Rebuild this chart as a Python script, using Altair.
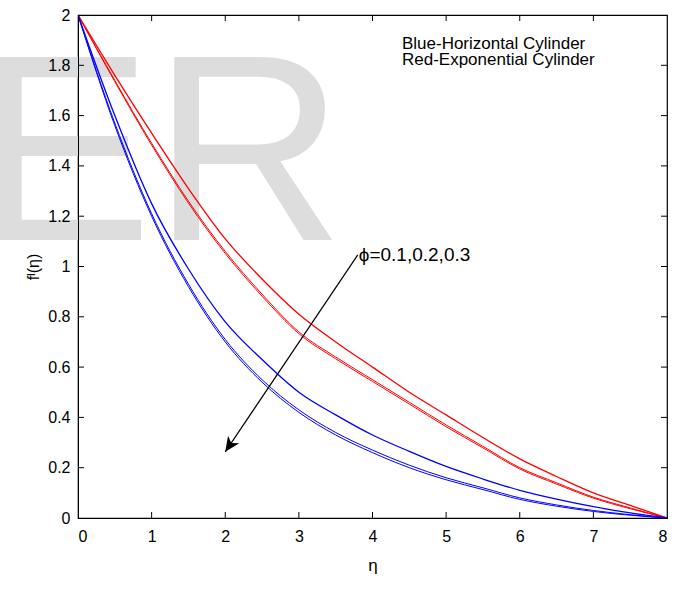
import altair as alt
import pandas as pd

# ---- data ----
eta = [0, 0.5, 1, 1.5, 2, 2.5, 3, 3.5, 4, 4.5, 5, 5.5, 6, 6.5, 7, 7.5, 8]
red_phi01 = [2, 1.76, 1.53, 1.31, 1.11, 0.95, 0.81, 0.70, 0.60, 0.50, 0.41, 0.32, 0.235, 0.165, 0.10, 0.05, 0]
red_phi02 = [2, 1.74, 1.49, 1.26, 1.06, 0.89, 0.74, 0.64, 0.55, 0.46, 0.37, 0.285, 0.20, 0.14, 0.083, 0.04, 0]
red_phi03 = [2, 1.735, 1.483, 1.252, 1.052, 0.882, 0.733, 0.633, 0.543, 0.453, 0.363, 0.279, 0.195, 0.135, 0.079, 0.037, 0]
blue_phi01 = [2, 1.60, 1.25, 0.99, 0.78, 0.63, 0.50, 0.41, 0.33, 0.265, 0.205, 0.155, 0.11, 0.075, 0.045, 0.02, 0]
blue_phi02 = [2, 1.57, 1.21, 0.93, 0.71, 0.55, 0.43, 0.34, 0.27, 0.21, 0.16, 0.12, 0.08, 0.052, 0.03, 0.013, 0]
blue_phi03 = [2, 1.56, 1.20, 0.92, 0.70, 0.54, 0.42, 0.33, 0.26, 0.20, 0.152, 0.113, 0.074, 0.047, 0.026, 0.011, 0]

series_names = ["red_0.1", "red_0.2", "red_0.3", "blue_0.1", "blue_0.2", "blue_0.3"]
series_values = [red_phi01, red_phi02, red_phi03, blue_phi01, blue_phi02, blue_phi03]
series_colors = ["#ff0000", "#ff0000", "#ff0000", "#0000ff", "#0000ff", "#0000ff"]
series_widths = [1.3, 1.0, 1.0, 1.3, 1.0, 1.0]

x_ticks = [0, 1, 2, 3, 4, 5, 6, 7, 8]
y_ticks = [0, 0.2, 0.4, 0.6, 0.8, 1, 1.2, 1.4, 1.6, 1.8, 2]

legend_lines = ["Blue-Horizontal Cylinder", "Red-Exponential Cylinder"]
legend_x = [4.40, 4.40]
legend_y = [1.885, 1.823]

phi_label = ["ϕ=0.1,0.2,0.3"]
arrow_x = [3.80, 2.0]
arrow_y = [1.046, 0.263]

W, H = 589, 503
FONT = "Liberation Sans"

rows = []
for name, vals, w in zip(series_names, series_values, series_widths):
    for e, v in zip(eta, vals):
        rows.append({"eta": e, "f": v, "series": name, "w": w})
df = pd.DataFrame(rows)

xs = alt.Scale(domain=[0, 8], nice=False, zero=False)
ys = alt.Scale(domain=[0, 2], nice=False, zero=False)

watermark = alt.Chart(pd.DataFrame({"t": ["ER"]})).mark_text(
    font=FONT, fontSize=266, color="#dddddd", align="left", baseline="alphabetic"
).encode(x=alt.value(-103), y=alt.value(225), text="t:N")

lines = alt.Chart(df).mark_line(interpolate="monotone", clip=True).encode(
    x=alt.X("eta:Q", scale=xs,
            axis=alt.Axis(values=x_ticks, format="d", ticks=False, grid=False,
                          domainColor="black", labelColor="black", labelFont=FONT,
                          labelFontSize=16, labelPadding=10, title="η",
                          titleFont=FONT, titleFontSize=17, titleFontWeight="normal",
                          titleColor="black", titlePadding=13, zindex=1)),
    y=alt.Y("f:Q", scale=ys,
            axis=alt.Axis(values=y_ticks, format=".1~f", ticks=False, grid=False,
                          domainColor="black", labelColor="black", labelFont=FONT,
                          labelFontSize=16, labelPadding=8, title="fᴵ(η)",
                          titleFont=FONT, titleFontSize=16, titleFontWeight="normal",
                          titleColor="black", titlePadding=6, zindex=1)),
    color=alt.Color("series:N", scale=alt.Scale(domain=series_names, range=series_colors), legend=None),
    strokeWidth=alt.StrokeWidth("w:Q", scale=None),
    detail="series:N",
)

xt = pd.DataFrame({"v": x_ticks[1:-1]})
yt = pd.DataFrame({"v": y_ticks[1:-1]})
tick_bottom = alt.Chart(xt).mark_rule(color="black").encode(
    x=alt.X("v:Q", scale=xs), y=alt.value(H), y2=alt.value(H - 6))
tick_top = alt.Chart(xt).mark_rule(color="black").encode(
    x=alt.X("v:Q", scale=xs), y=alt.value(0), y2=alt.value(6))
tick_left = alt.Chart(yt).mark_rule(color="black").encode(
    y=alt.Y("v:Q", scale=ys), x=alt.value(0), x2=alt.value(6))
tick_right = alt.Chart(yt).mark_rule(color="black").encode(
    y=alt.Y("v:Q", scale=ys), x=alt.value(W), x2=alt.value(W - 6))

adf = pd.DataFrame({"x": [arrow_x[0]], "y": [arrow_y[0]], "x2": [arrow_x[1]], "y2": [arrow_y[1]]})
arrow_line = alt.Chart(adf).mark_rule(color="black", strokeWidth=1.2).encode(
    x=alt.X("x:Q", scale=xs), y=alt.Y("y:Q", scale=ys), x2="x2:Q", y2="y2:Q")
head = alt.Chart(pd.DataFrame({"x": [arrow_x[1]], "y": [arrow_y[1]]})).mark_point(
    shape="M0,0 L0.45,1 L0,0.72 L-0.45,1 Z", filled=True, color="black", opacity=1,
    size=900, angle=214
).encode(x=alt.X("x:Q", scale=xs), y=alt.Y("y:Q", scale=ys))

ldf = pd.DataFrame({"t": legend_lines, "x": legend_x, "y": legend_y})
legend_text = alt.Chart(ldf).mark_text(
    font=FONT, fontSize=17, align="left", baseline="middle", color="black"
).encode(x=alt.X("x:Q", scale=xs), y=alt.Y("y:Q", scale=ys), text="t:N")

pdf = pd.DataFrame({"t": phi_label, "x": [arrow_x[0]], "y": [arrow_y[0]]})
phi_text = alt.Chart(pdf).mark_text(
    font=FONT, fontSize=19, align="left", baseline="middle", color="black", dx=1
).encode(x=alt.X("x:Q", scale=xs), y=alt.Y("y:Q", scale=ys), text="t:N")

chart = alt.layer(
    watermark, lines, tick_bottom, tick_top, tick_left, tick_right,
    arrow_line, head, legend_text, phi_text
).properties(
    width=W, height=H,
    autosize=alt.AutoSizeParams(type="none"),
    padding={"left": 78, "top": 15, "right": 12, "bottom": 87},
    background="white",
).configure_view(stroke="black", strokeWidth=1.2)

chart.save("out.html", embed_options={"renderer": "svg", "actions": False})
